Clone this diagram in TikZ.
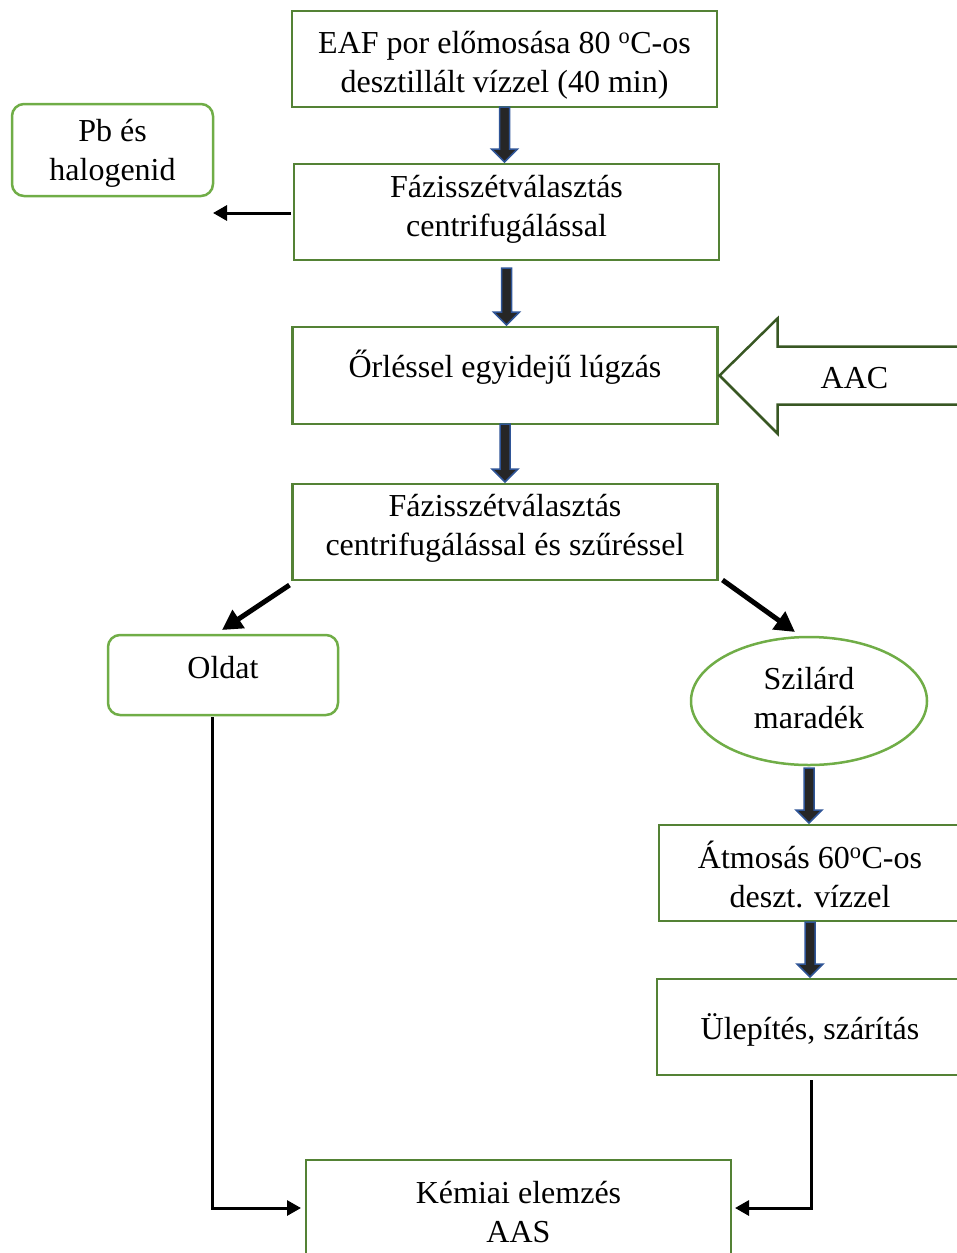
\documentclass[tikz,border=0pt]{standalone}
\usepackage{fontspec}
\setmainfont{Liberation Serif}
\usetikzlibrary{positioning,arrows.meta,calc,shapes.geometric}
\definecolor{boxgreen}{RGB}{84,130,53}
\definecolor{softgreen}{RGB}{112,173,71}
\definecolor{darkgreen}{RGB}{56,87,35}
\definecolor{arrblue}{RGB}{47,85,151}
\definecolor{arrfill}{RGB}{38,38,38}
% thick process arrow: [start gap]{from}{to}
\newcommand{\fatarrow}[3][0pt]{\filldraw[fat] ($(#2.south)+(-5pt,-#1)$) -- ($(#2.south |- #3.north)+(-5pt,15pt)$) -- ($(#2.south |- #3.north)+(-13pt,15pt)$) -- ($(#2.south |- #3.north)+(0,2pt)$) -- ($(#2.south |- #3.north)+(13pt,15pt)$) -- ($(#2.south |- #3.north)+(5pt,15pt)$) -- ($(#2.south)+(5pt,-#1)$) -- cycle;}

\begin{document}
\begin{tikzpicture}[
  txt/.style={font=\fontsize{32pt}{39pt}\selectfont,align=center,inner sep=0pt,outer sep=0pt,text height=0pt,text depth=0pt},
  drop/.style={text height=#1},
  stepbox/.style={txt,draw=boxgreen,line width=2.5pt,minimum width=425pt,minimum height=96pt},
  sidebox/.style={txt,draw=softgreen,line width=2.5pt,rounded corners=12pt},
  fat/.style={fill=arrfill,draw=arrblue,line width=1.5pt,line join=miter},
  outarr/.style={line width=3pt,-{Triangle[length=14pt,width=15pt]}},
  splitarr/.style={line width=5pt,-{Triangle[length=20pt,width=21pt]}},
  inflow/.style={draw=darkgreen,line width=2.5pt,line join=miter}]
\useasboundingbox (0,0) rectangle (957pt,-1253pt);
\node[stepbox,drop=66pt] (eaf) at (504.5pt,-59pt) {EAF por előmosása 80 \textsuperscript{o}C-os\\desztillált vízzel (40 min)};
\node[stepbox,drop=48pt,below=57pt of eaf,xshift=2pt] (sep1) {Fázisszétválasztás\\centrifugálással};
\node[sidebox,drop=60pt,minimum width=201pt,minimum height=92pt,left=81pt of sep1,yshift=62pt] (pb) {Pb és\\halogenid};
\node[stepbox,drop=4pt,minimum height=97pt,below=67pt of sep1,xshift=-1.5pt] (grind) {Őrléssel egyidejű lúgzás};
\node[stepbox,drop=47pt,below=60pt of grind] (sep2) {Fázisszétválasztás\\centrifugálással és szűréssel};
\node[sidebox,drop=6pt,minimum width=230pt,minimum height=80pt,below=55pt of sep2,xshift=-282pt] (oldat) {Oldat};
\node[txt,drop=54pt,ellipse,draw=softgreen,line width=2.5pt,minimum width=236pt,minimum height=128pt,below=57pt of sep2,xshift=304pt] (solid) {Szilárd\\maradék};
\node[stepbox,drop=68pt,minimum width=302pt,below=60pt of solid,xshift=1pt] (wash) {Átmosás 60\textsuperscript{o}C-os\\deszt. vízzel};
\node[stepbox,drop=24pt,minimum width=306pt,below=58pt of wash] (dry) {Ülepítés, szárítás};
\node[stepbox,drop=68pt,below=85pt of dry,xshift=-291.5pt] (chem) {Kémiai elemzés\\AAS};
\node[txt,drop=28pt] (aac) at ($(grind.east)+(137pt,1pt)$) {AAC};
\draw[inflow] ($(grind.east)+(2pt,0)$) -- ++(58pt,57pt) -- ++(0,-28pt) -- ++(200pt,0) -- ++(0,-58pt) -- ++(-200pt,0) -- ++(0,-29pt) -- cycle;
\fatarrow{eaf}{sep1} \fatarrow[8pt]{sep1}{grind} \fatarrow{grind}{sep2}
\fatarrow[3pt]{solid}{wash} \fatarrow[1pt]{wash}{dry}
\draw[outarr,shorten <=3pt] ($(sep1.west)+(0,-1pt)$) -- ($(sep1.west -| pb.east)+(0,-1pt)$);
\draw[splitarr] ($(sep2.south west)+(-3pt,-5pt)$) -- ($(oldat.north)+(-1pt,5pt)$);
\draw[splitarr] ($(sep2.south east)+(5pt,0)$) -- ($(solid.north)+(-14pt,5pt)$);
\draw[outarr,shorten >=5pt] ($(oldat.south)+(-11pt,-2pt)$) |- (chem.west);
\draw[outarr,shorten >=4pt] ($(dry.south)+(1pt,-5pt)$) |- (chem.east);
\end{tikzpicture}
\end{document}
